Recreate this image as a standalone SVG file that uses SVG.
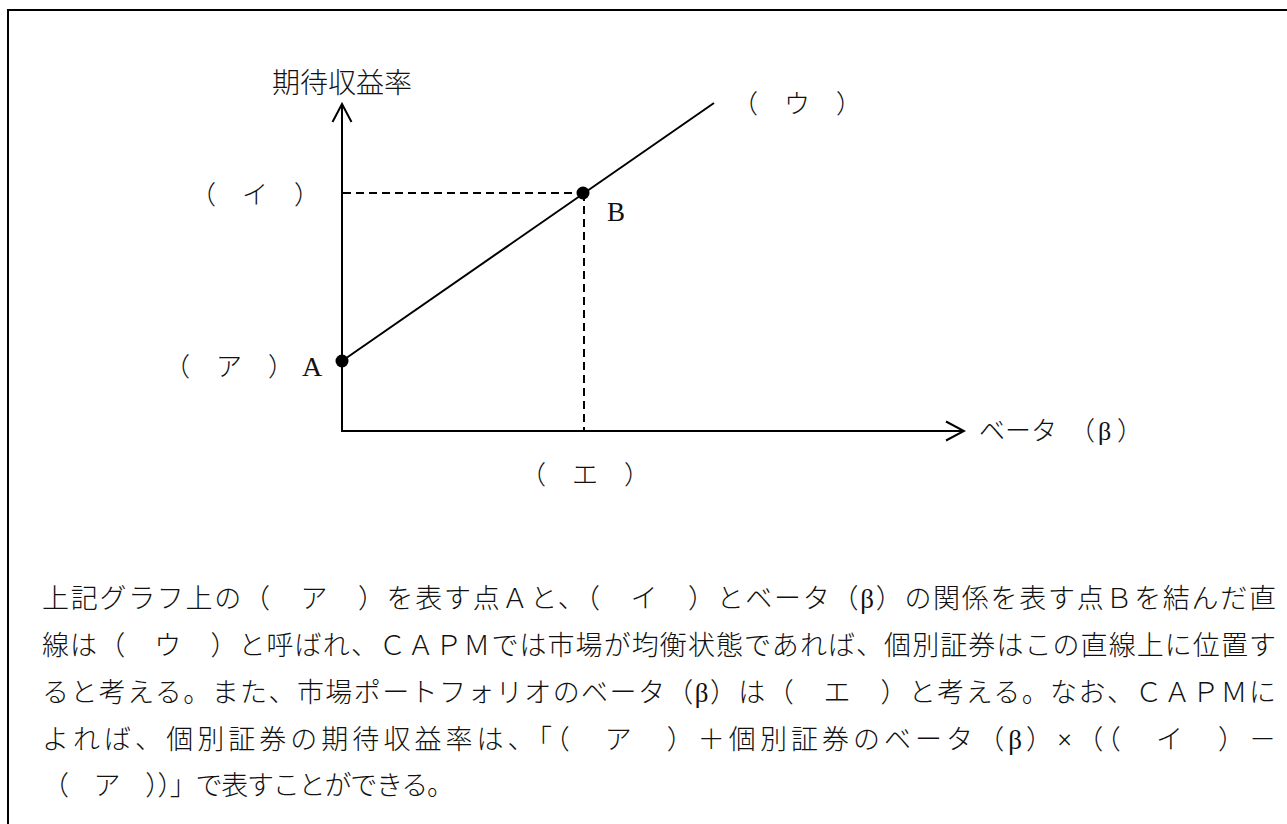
<svg xmlns="http://www.w3.org/2000/svg" width="1287" height="824" viewBox="0 0 1287 824">
  <style>
    .t { font-family: "Liberation Serif", "Noto Sans CJK JP", serif; fill: #111; font-weight: 300; }
    .lab { font-size: 26px; }
    .para { font-size: 27px; }
    .ln { stroke: #000; stroke-width: 2; fill: none; }
    .dash { stroke: #000; stroke-width: 2; fill: none; stroke-dasharray: 8 5; }
  </style>
  <defs>
    <marker id="open" markerUnits="userSpaceOnUse" viewBox="-20 -11 22 22" markerWidth="22" markerHeight="22" refX="0" refY="0" orient="auto">
      <path d="M -18 -9.5 L 0 0 L -18 9.5" fill="none" stroke="#000" stroke-width="2"/>
    </marker>
  </defs>
  <rect width="1287" height="824" fill="#fff"/>
  <rect x="8" y="10" width="1300" height="840" fill="none" stroke="#000" stroke-width="2"/>

  <g id="connectors">
    <line class="ln" x1="342" y1="431" x2="342" y2="104" marker-end="url(#open)"/>
    <line class="ln" x1="341" y1="431" x2="964" y2="431" marker-end="url(#open)"/>
    <line class="ln" x1="342" y1="361" x2="714" y2="103"/>
    <line class="dash" x1="343" y1="193" x2="583" y2="193"/>
    <line class="dash" x1="584" y1="193" x2="584" y2="430"/>
  </g>

  <g id="y-axis-label">
    <text class="t" x="272" y="93" font-size="28">期待収益率</text>
  </g>
  <g id="x-axis-label">
    <text class="t lab" y="440"><tspan x="979">ベータ</tspan><tspan x="1069">（</tspan><tspan x="1098">β</tspan><tspan x="1117">）</tspan></text>
  </g>
  <g id="point-A">
    <circle cx="342" cy="361" r="6.5" fill="#000"/>
    <text class="t lab" x="164" y="376">（　ア　）</text>
    <text class="t" x="302" y="376" font-size="28">A</text>
  </g>
  <g id="point-B">
    <circle cx="583" cy="193" r="6.5" fill="#000"/>
    <text class="t" x="607" y="221" font-size="27">B</text>
  </g>
  <g id="label-i">
    <text class="t lab" x="190" y="204">（　イ　）</text>
  </g>
  <g id="label-u">
    <text class="t lab" x="732" y="113">（　ウ　）</text>
  </g>
  <g id="label-e">
    <text class="t lab" x="520" y="484">（　エ　）</text>
  </g>

  <g id="paragraph">
    <text class="t para" x="42" y="608" textLength="1234" lengthAdjust="spacing">上記グラフ上の（　ア　）を表す点Ａと、（　イ　）とベータ（β）の関係を表す点Ｂを結んだ直</text>
    <text class="t para" x="42" y="655" textLength="1234" lengthAdjust="spacing">線は（　ウ　）と呼ばれ、ＣＡＰＭでは市場が均衡状態であれば、個別証券はこの直線上に位置す</text>
    <text class="t para" x="42" y="702" textLength="1234" lengthAdjust="spacing">ると考える。また、市場ポートフォリオのベータ（β）は（　エ　）と考える。なお、ＣＡＰＭに</text>
    <text class="t para" x="42" y="749" textLength="1234" lengthAdjust="spacing">よれば、個別証券の期待収益率は、「（　ア　）＋個別証券のベータ（β）×（（　イ　）－</text>
    <text class="t para" x="42" y="795" textLength="412" lengthAdjust="spacing">（　ア　））」で表すことができる。</text>
  </g>
</svg>
